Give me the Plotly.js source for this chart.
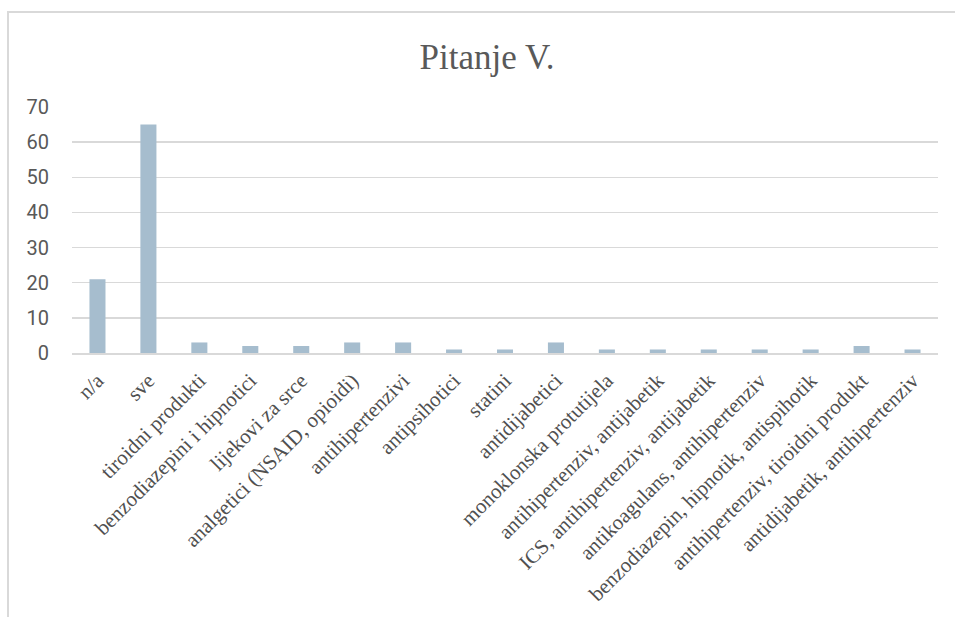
<!DOCTYPE html>
<html>
<head>
<meta charset="utf-8">
<script src="https://cdn.plot.ly/plotly-3.0.1.min.js"></script>
<style>
html,body{margin:0;padding:0;background:#fff;}
#wrap{position:relative;width:955px;height:617px;overflow:hidden;}
#frame{position:absolute;left:7px;top:11px;width:960px;height:620px;border-left:2px solid #d9d9d9;border-top:2px solid #d9d9d9;pointer-events:none;}
#chart{position:absolute;left:0;top:0;width:955px;height:617px;}
</style>
</head>
<body>
<div id="wrap">
<div id="chart"></div>
<div id="frame"></div>
</div>
<script>
const categories = [
  "n/a",
  "sve",
  "tiroidni produkti",
  "benzodiazepini i hipnotici",
  "lijekovi za srce",
  "analgetici (NSAID, opioidi)",
  "antihipertenzivi",
  "antipsihotici",
  "statini",
  "antidijabetici",
  "monoklonska protutijela",
  "antihipertenziv, antijabetik",
  "ICS, antihipertenziv, antijabetik",
  "antikoagulans, antihipertenziv",
  "benzodiazepin, hipnotik, antispihotik",
  "antihipertenziv, tiroidni produkt",
  "antidijabetik, antihipertenziv"
];
const values = [21, 65, 3, 2, 2, 3, 3, 1, 1, 3, 1, 1, 1, 1, 1, 2, 1];
const yTicks = [0, 10, 20, 30, 40, 50, 60, 70];
const titleText = "Pitanje V.";

const trace = {
  type: "bar",
  x: categories,
  y: values,
  marker: {color: "#a6bdce", line: {width: 0}},
  hoverinfo: "x+y"
};

const layout = {
  width: 955,
  height: 617,
  margin: {l: 72, r: 17, t: 107, b: 264},
  paper_bgcolor: "#ffffff",
  plot_bgcolor: "#ffffff",
  showlegend: false,
  bargap: 0.685,
  title: {
    text: titleText,
    font: {family: "Liberation Serif, Times New Roman, serif", size: 35, color: "#595959"},
    x: 487/955, xref: "container", xanchor: "center",
    y: 1 - 57/617, yref: "container", yanchor: "middle"
  },
  xaxis: {
    type: "category",
    tickangle: -45,
    tickfont: {family: "Liberation Serif, Times New Roman, serif", size: 21, color: "#505050"},
    showgrid: false,
    showline: true,
    linecolor: "#d9d9d9",
    linewidth: 2,
    ticks: "",
    ticklabelstandoff: 5,
    automargin: false
  },
  yaxis: {
    range: [0, 70],
    tickvals: yTicks,
    ticktext: yTicks.map(String),
    tickfont: {family: "Roboto, Arial, sans-serif", size: 20, color: "#595959"},
    showgrid: true,
    gridcolor: "#d9d9d9",
    gridwidth: 1.5,
    zeroline: false,
    showline: false,
    ticks: "",
    ticklabelstandoff: 22,
    automargin: false
  }
};

Plotly.newPlot("chart", [trace], layout, {displayModeBar: false, staticPlot: true});
</script>
</body>
</html>
